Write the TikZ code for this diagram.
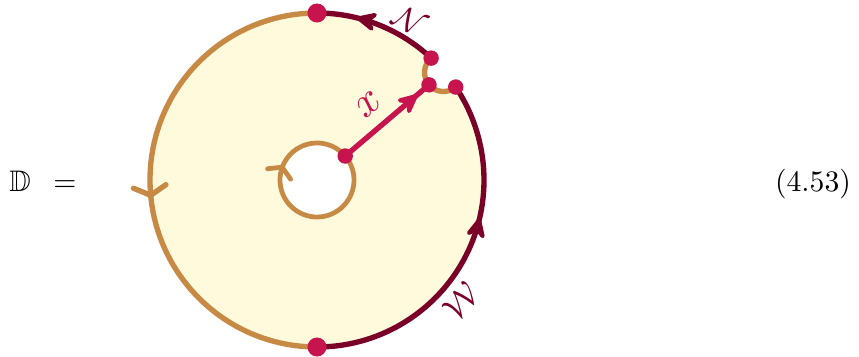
\documentclass[tikz,border=0pt]{standalone}
\usepackage{amssymb}
\usetikzlibrary{arrows.meta,decorations.markings,calc}
\definecolor{cream}{HTML}{FFFADC}
\definecolor{ochre}{HTML}{C68A45}
\definecolor{wine}{HTML}{7A0028}
\definecolor{berry}{HTML}{C8144E}
\tikzset{
  lw/.style={line width=1.8pt},
  stealthmark/.style={postaction={decorate},decoration={markings,mark=at position #1 with {\arrow{Stealth[length=9pt,width=8.5pt,inset=3.5pt,round]}}}},
  barbmark/.style={postaction={decorate},decoration={markings,mark=at position #1 with {\arrow{Straight Barb[length=3pt,width=11pt,line width=1.8pt,line cap=round]}}}},
  smallbarbmark/.style={postaction={decorate},decoration={markings,mark=at position #1 with {\arrow{Straight Barb[length=2.5pt,width=8.5pt,line width=1.6pt,line cap=round]}}}},
  bigdot/.style={circle,fill=berry,inner sep=0pt,minimum size=6.4pt},
  smalldot/.style={circle,fill=berry,inner sep=0pt,minimum size=5.2pt},
  lbl/.style={inner sep=0pt},
}
\begin{document}
\begin{tikzpicture}[x=0.3367pt,y=0.3367pt]
\useasboundingbox (0,0) rectangle (859,356);
\coordinate (C) at (317,176);
\coordinate (T) at ($(C)+(90:167)$);
\coordinate (Bo) at ($(C)+(270:167)$);
\coordinate (A) at ($(C)+(46.88:167)$);
\coordinate (B) at ($(C)+(33.82:167)$);
\coordinate (Q) at ($(C)+(40.35:166)$);
\coordinate (P) at ($(Q)+(220.35:19)$);
\coordinate (S) at ($(C)+(40.35:37)$);
% fill
\fill[cream,even odd rule] (A) arc[start angle=46.88,end angle=393.82,radius=167]
  arc[start angle=310,end angle=130.7,radius=19] -- cycle
  (C) circle[radius=37];
% orange boundaries
\draw[ochre,lw,barbmark=0.535] (T) arc[start angle=90,end angle=270,radius=167];
\draw[ochre,lw] (A) arc[start angle=130.7,end angle=310,radius=19];
\draw[ochre,line width=1.6pt,smallbarbmark=0.68] (S) arc[start angle=40.35,end angle=-319.65,radius=37];
% wine boundaries
\draw[wine,lw,stealthmark=0.68] (A) arc[start angle=46.88,end angle=90,radius=167];
\draw[wine,lw,stealthmark=0.62] (Bo) arc[start angle=270,end angle=393.82,radius=167];
% x path
\draw[berry,lw,stealthmark=0.86] (S) -- (P);
% dots
\node[bigdot] (dT) at (T) {};
\node[bigdot] (dB) at (Bo) {};
\node[smalldot] (dA) at (A) {};
\node[smalldot] (dP) at (P) {};
\node[smalldot] (dBB) at (B) {};
\node[smalldot] (dS) at (S) {};
% labels
\node[lbl,wine,rotate=-30.4,scale=1.1] (lN) at ($(C)+(59.6:184)$) {$\mathcal{N}$};
\node[lbl,wine,rotate=50,scale=1.15] (lW) at ($(C)+(-40:188)$) {$\mathcal{W}$};
\node[lbl,berry,rotate=40.35,scale=1.45] (lx) at ($(C)+(40.35:88)+(130.35:24)$) {$x$};
\node[anchor=base] (lD) at (20,165) {$\mathbb{D}$};
\node[anchor=base] (leq) at (65,165) {$=$};
\node[anchor=base] (num) at (813,165) {(4.53)};
\end{tikzpicture}
\end{document}
